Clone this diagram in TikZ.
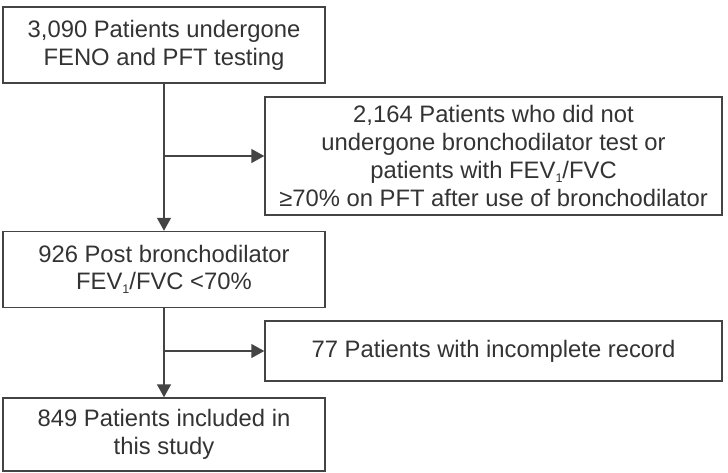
\documentclass[tikz,border=0pt]{standalone}
\usepackage{fontspec}
\setmainfont{Liberation Sans}
\usetikzlibrary{arrows.meta,positioning}
\definecolor{linegray}{HTML}{444444}
\definecolor{textgray}{HTML}{333333}
\newcommand{\fevsub}{\raisebox{-4pt}{\fontsize{12.5}{12.5}\selectfont 1}}

\begin{document}
\begin{tikzpicture}[
  x=1pt, y=1pt,
  box/.style={draw=linegray, line width=1.5pt, text=textgray, align=center, inner sep=0pt,
    font=\fontsize{23.8}{27.7}\selectfont},
  mainbox/.style={box, minimum width=322pt},
  sidebox/.style={box, minimum width=457pt},
  arr/.style={-{Triangle[length=13pt, width=14pt]}, line width=1.5pt, draw=linegray}
]
  \useasboundingbox (0,0) rectangle (728,-472);
  \node[mainbox, minimum height=76pt] (total) at (164,-45) {3,090 Patients undergone\\FENO and PFT testing};
  \node[mainbox, minimum height=76pt, below=147pt of total] (post) {926 Post bronchodilator\\FEV\fevsub/FVC <70\%};
  \node[mainbox, minimum height=73pt, below=89pt of post] (incl) {849 Patients included in\\this study};
  \node[sidebox, minimum height=118pt] (excl) at (493.5,-156) {2,164 Patients who did not\\undergone bronchodilator test or\\patients with FEV\fevsub/FVC\\≥70\% on PFT after use of bronchodilator};
  \node[sidebox, minimum height=60pt] (incomp) at (493.5,-351) {77 Patients with incomplete record};

  \coordinate (split1) at (total.south |- excl.west);
  \coordinate (split2) at (post.south |- incomp.west);

  \draw[arr] (total) -- (post);
  \draw[arr] (post) -- (incl);
  \draw[arr] (split1) -- (excl);
  \draw[arr] (split2) -- (incomp);
\end{tikzpicture}
\end{document}
